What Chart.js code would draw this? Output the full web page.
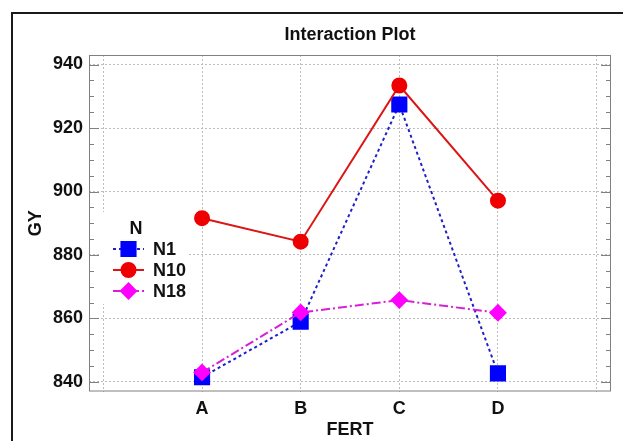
<!DOCTYPE html>
<html lang="en">
<head>
    <meta charset="UTF-8">
    <title>Interaction Plot</title>
    <script src="https://cdn.jsdelivr.net/npm/chart.js"></script>
    <style>
        body { margin: 0; background: #fff; }
        canvas { display: block; }
    </style>
</head>
<body>
    <canvas id="interaction" width="623" height="441"></canvas>
    <script>
        // Categories on the x axis (FERT levels)
        const categories = ['A', 'B', 'C', 'D'];
        // GY means for each N level
        const n1Values = [841.5, 859, 927.4, 842.7];
        const n10Values = [891.6, 884.2, 933.4, 897.1];
        const n18Values = [843, 861.9, 865.8, 861.8];
        // Major y ticks
        const yTicks = [840, 860, 880, 900, 920, 940];

        const FONT = '"Liberation Sans", Arial, sans-serif';

        // turns a list of values into {x, y} points, category i sits at x = i + 1
        function toPoints(values) {
            return values.map((v, i) => ({ x: i + 1, y: v }));
        }

        // outer frame, plot box, inner tick marks and the legend
        const decorations = {
            id: 'decorations',
            beforeDatasetsDraw(chart) {
                const { ctx, chartArea: a } = chart;
                const y = chart.scales.y;
                ctx.save();
                ctx.strokeStyle = '#808080';
                ctx.lineWidth = 1;
                ctx.strokeRect(a.left + 0.5, a.top + 0.5, a.right - a.left - 1, a.bottom - a.top - 1);
                // tick marks every 5, longer ones on the labelled values
                for (let v = 840; v <= 940; v += 5) {
                    const py = Math.round(y.getPixelForValue(v)) + 0.5;
                    const len = v % 20 === 0 ? 10 : 5;
                    ctx.beginPath();
                    ctx.moveTo(a.left, py);
                    ctx.lineTo(a.left + len, py);
                    ctx.moveTo(a.right, py);
                    ctx.lineTo(a.right - len, py);
                    ctx.stroke();
                }
                ctx.restore();
            },
            afterDatasetsDraw(chart) {
                const ctx = chart.ctx;
                ctx.save();
                // legend box
                ctx.fillStyle = '#fff';
                ctx.fillRect(99, 212, 90, 92);
                ctx.fillStyle = '#111';
                ctx.font = 'bold 18px ' + FONT;
                ctx.textAlign = 'center';
                ctx.textBaseline = 'middle';
                ctx.fillText('N', 136, 229);
                const rows = [249, 270, 291];
                chart.data.datasets.forEach((ds, i) => {
                    const ly = rows[i];
                    ctx.strokeStyle = ds.borderColor;
                    ctx.lineWidth = ds.borderWidth;
                    ctx.setLineDash(ds.borderDash || []);
                    ctx.beginPath();
                    ctx.moveTo(113, ly);
                    ctx.lineTo(144, ly);
                    ctx.stroke();
                    ctx.setLineDash([]);
                    ctx.fillStyle = ds.pointBackgroundColor;
                    ctx.strokeStyle = ds.pointBackgroundColor;
                    Chart.helpers.drawPoint(ctx, {
                        pointStyle: ds.pointStyle,
                        radius: ds.pointRadius,
                        rotation: 0,
                        borderWidth: 1
                    }, 128.5, ly);
                    ctx.fillStyle = '#111';
                    ctx.textAlign = 'left';
                    ctx.fillText(ds.label, 153, ly + 1);
                });
                ctx.restore();
            },
            afterDraw(chart) {
                const ctx = chart.ctx;
                ctx.save();
                ctx.strokeStyle = '#1a1a1a';
                ctx.lineWidth = 2;
                ctx.beginPath();
                ctx.moveTo(12, 441);
                ctx.lineTo(12, 13);
                ctx.lineTo(623, 13);
                ctx.stroke();
                ctx.restore();
            }
        };

        new Chart(document.getElementById('interaction'), {
            type: 'line',
            data: {
                datasets: [
                    {
                        label: 'N1',
                        data: toPoints(n1Values),
                        borderColor: '#1f1fc8',
                        borderWidth: 2,
                        borderDash: [3, 3],
                        pointStyle: 'rect',
                        pointRadius: 10,
                        pointBackgroundColor: '#0000ff',
                        pointBorderColor: '#0000ff',
                        order: 2
                    },
                    {
                        label: 'N10',
                        data: toPoints(n10Values),
                        borderColor: '#dd1515',
                        borderWidth: 2,
                        pointStyle: 'circle',
                        pointRadius: 7,
                        pointBackgroundColor: '#ee0000',
                        pointBorderColor: '#ee0000',
                        order: 1
                    },
                    {
                        label: 'N18',
                        data: toPoints(n18Values),
                        borderColor: '#d81fd8',
                        borderWidth: 2,
                        borderDash: [9, 3, 2, 3],
                        pointStyle: 'rectRot',
                        pointRadius: 7.5,
                        pointBackgroundColor: '#ff00ff',
                        pointBorderColor: '#ff00ff',
                        order: 0
                    }
                ]
            },
            options: {
                responsive: false,
                animation: false,
                layout: { padding: { left: 12, right: 10.5, top: 0, bottom: 0 } },
                plugins: {
                    legend: { display: false },
                    tooltip: { enabled: false },
                    title: {
                        display: true,
                        fullSize: false,
                        text: 'Interaction Plot',
                        color: '#111',
                        font: { family: FONT, size: 18, weight: 'bold' },
                        padding: { top: 24, bottom: 9.4 }
                    }
                },
                scales: {
                    x: {
                        type: 'linear',
                        min: -0.146,
                        max: 5.146,
                        afterBuildTicks: s => { s.ticks = [0, 1, 2, 3, 4, 5].map(v => ({ value: v })); },
                        afterFit: s => { s.height = 49.5; },
                        grid: { color: '#bdbdbd', lineWidth: 1, drawTicks: false },
                        border: { display: false, dash: [2, 2] },
                        ticks: {
                            padding: 7,
                            color: '#111',
                            font: { family: FONT, size: 18, weight: 'bold' },
                            callback: v => categories[v - 1] || ''
                        },
                        title: {
                            display: true,
                            text: 'FERT',
                            color: '#111',
                            font: { family: FONT, size: 18, weight: 'bold' },
                            padding: { top: 0, bottom: 0 }
                        }
                    },
                    y: {
                        min: 837,
                        max: 943,
                        afterBuildTicks: s => { s.ticks = yTicks.map(v => ({ value: v })); },
                        afterFit: s => { s.width = 77; },
                        grid: { color: '#bdbdbd', lineWidth: 1, drawTicks: false },
                        border: { display: false, dash: [2, 2] },
                        ticks: {
                            padding: 6,
                            color: '#111',
                            font: { family: FONT, size: 18, weight: 'bold' }
                        },
                        title: {
                            display: true,
                            text: 'GY',
                            color: '#111',
                            font: { family: FONT, size: 18, weight: 'bold' },
                            padding: { top: 13, bottom: 0 }
                        }
                    }
                }
            },
            plugins: [decorations]
        });
    </script>
</body>
</html>
